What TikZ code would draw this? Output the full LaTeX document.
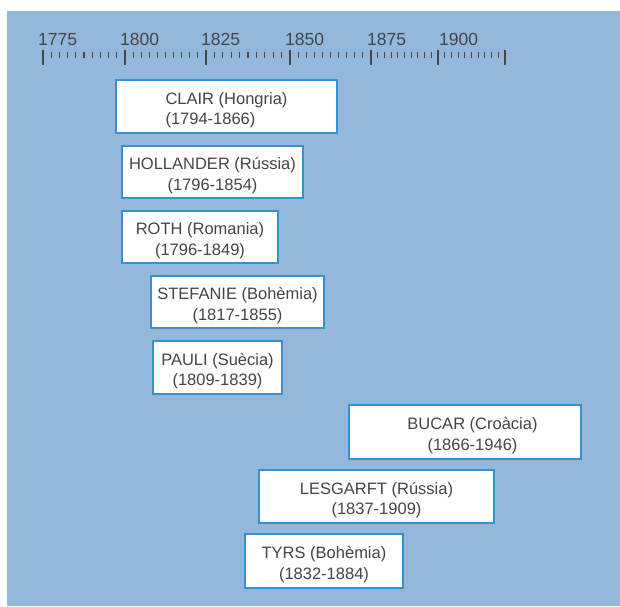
\documentclass[tikz,border=0pt]{standalone}
\usepackage{fontspec}
\setmainfont{Liberation Sans}
\definecolor{bgblue}{HTML}{93B8DC}
\definecolor{edgeblue}{HTML}{3592CE}
\definecolor{ink}{HTML}{454545}
\newcommand{\dropstrut}{\rule{0pt}{19pt}}
\begin{document}
\begin{tikzpicture}[x=1pt,y=-1pt,
  person/.style={draw=edgeblue, line width=1.6pt, fill=white, text=ink,
    inner sep=0pt, align=center,
    font=\fontsize{16.5}{20.5}\selectfont},
  yearlabel/.style={anchor=base west, inner sep=0pt, text=ink,
    font=\fontsize{17.5}{20}\selectfont},
  majortick/.style={draw=ink, line width=2.4pt},
  minortick/.style={draw=ink, line width=1.1pt}]
\useasboundingbox (0,0) rectangle (620,606);
\fill[bgblue] (7,11) rectangle (620,606);
% axis ticks
\foreach \a/\b in {43/125,125/206,206/290,290/371,371/438,438/505}{
  \foreach \k in {1,...,9}{
    \draw[minortick] ({\a+\k*(\b-\a)/10},51.5) -- ({\a+\k*(\b-\a)/10},57.5);
  }
}
\foreach \t in {43,125,206,290,371,438,505}{
  \draw[majortick] (\t,50) -- (\t,65);
}
\node[yearlabel] (y1775) at (38,45) {1775};
\node[yearlabel] (y1800) at (120,45) {1800};
\node[yearlabel] (y1825) at (201,45) {1825};
\node[yearlabel] (y1850) at (285,45) {1850};
\node[yearlabel] (y1875) at (367,45) {1875};
\node[yearlabel] (y1900) at (439,45) {1900};
% boxes
\node[person, align=left, minimum width=221pt, minimum height=53pt] (clair) at (226.5,106.5) {\dropstrut CLAIR (Hongria)\\(1794-1866)};
\node[person, minimum width=181pt, minimum height=52pt] (hollander) at (212.5,172) {\dropstrut HOLLANDER (Rússia)\\(1796-1854)};
\node[person, minimum width=156pt, minimum height=52pt] (roth) at (200,237) {\dropstrut ROTH (Romania)\\(1796-1849)};
\node[person, minimum width=173pt, minimum height=52pt] (stefanie) at (237.5,302) {\dropstrut STEFANIE (Bohèmia)\\(1817-1855)};
\node[person, minimum width=129pt, minimum height=53pt] (pauli) at (217.5,367.5) {\dropstrut PAULI (Suècia)\\(1809-1839)};
\node[person, minimum width=232pt, minimum height=54pt] (bucar) at (465,432) {\dropstrut\hspace*{15pt}BUCAR (Croàcia)\\\hspace*{15pt}(1866-1946)};
\node[person, minimum width=235pt, minimum height=53pt] (lesgarft) at (376.5,496.5) {\dropstrut LESGARFT (Rússia)\\(1837-1909)};
\node[person, minimum width=158pt, minimum height=54pt] (tyrs) at (324,561) {\dropstrut TYRS (Bohèmia)\\(1832-1884)};
\end{tikzpicture}
\end{document}
